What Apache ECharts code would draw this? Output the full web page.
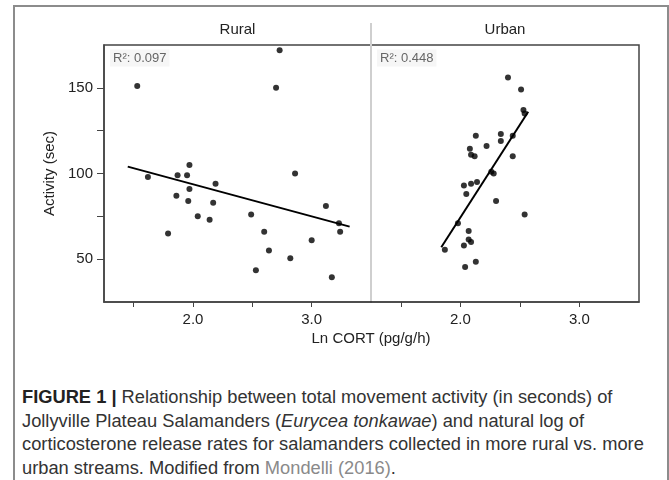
<!DOCTYPE html>
<html>
<head>
<meta charset="utf-8">
<script src="https://cdn.jsdelivr.net/npm/echarts@6/dist/echarts.min.js"></script>
<style>
  html, body { margin: 0; padding: 0; background: #fff; }
  #wrap { position: relative; width: 669px; height: 480px; overflow: hidden; background: #fff; }
  #frame {
    position: absolute; left: 13px; top: 5px; width: 656px; height: 520px;
    border: 2px solid #8c8c8c; border-bottom: none; box-sizing: border-box;
  }
  #chart { position: absolute; left: 0; top: 0; width: 669px; height: 360px; }
  #caption {
    position: absolute; left: 22px; top: 385px;
    font: 18.3px/23.7px "Liberation Sans", Arial, sans-serif;
    color: #333; white-space: nowrap;
  }
  #caption b { color: #222; }
  #caption .ref { color: #8a8a8a; }
</style>
</head>
<body>
<div id="wrap">
  <div id="frame"></div>
  <div id="chart"></div>
  <div id="caption"><b>FIGURE 1 |</b> Relationship between total movement activity (in seconds) of<br>Jollyville Plateau Salamanders (<i>Eurycea tonkawae</i>) and natural log of<br>corticosterone release rates for salamanders collected in more rural vs. more<br>urban streams. Modified from <span class="ref">Mondelli (2016)</span>.</div>
</div>
<script>
// values
const ruralCort = [1.53, 1.62, 1.79, 1.86, 1.87, 1.95, 1.96, 1.97, 1.97, 2.04, 2.14, 2.17, 2.19,
  2.49, 2.53, 2.60, 2.64, 2.70, 2.73, 2.82, 2.86, 3.00, 3.12, 3.17, 3.23, 3.24]
const ruralActivity = [151, 98, 65, 87, 99, 99, 84, 105, 91, 75, 73, 83, 94,
  76, 43.5, 66, 55, 150, 172, 50.5, 100, 61, 81, 39.5, 71, 66]

const urbanCort = [2.40, 2.51, 2.53, 2.54, 2.13, 2.34, 2.34, 2.44, 2.22, 2.08, 2.09, 2.12, 2.44, 2.26, 2.28,
  2.03, 2.09, 2.14, 2.05, 2.30, 2.54, 1.98, 2.07, 2.07, 2.09, 2.03, 1.87, 2.13, 2.04]
const urbanActivity = [156, 149, 137, 135, 122, 123, 119, 122, 116, 114.5, 111, 110, 110, 101, 100,
  93, 94, 95, 88, 84, 76, 71, 66.5, 61.5, 60, 58, 55.5, 48.5, 45.5]

// fitted lines, end points as drawn
const ruralFitCort = [1.45, 3.32]
const ruralFitActivity = [104, 69]
const urbanFitCort = [1.84, 2.57]
const urbanFitActivity = [57, 136]

const panelNames = ['Rural', 'Urban']
const rSquared = ['0.097', '0.448']

const xTicks = [1.5, 2.0, 2.5, 3.0]
const xLabels = [2.0, 3.0]
const yTicks = [50, 75, 100, 125, 150]
const yLabels = [50, 100, 150]

const FONT = '"Liberation Sans", Arial, sans-serif'
const AXIS_COLOR = '#444'
const TEXT_COLOR = '#222'

const zip = (xs, ys) => xs.map((x, i) => [x, ys[i]])

function makeXAxis(gridIndex) {
  return {
    type: 'value',
    gridIndex,
    min: 1.25,
    max: 3.5,
    axisLine: { show: true, lineStyle: { color: AXIS_COLOR, width: 1.5 } },
    axisTick: { show: true, length: 5, customValues: xTicks, lineStyle: { color: AXIS_COLOR } },
    axisLabel: {
      customValues: xLabels,
      formatter: v => v.toFixed(1),
      color: TEXT_COLOR,
      fontSize: 15,
      fontFamily: FONT,
      margin: 10
    },
    splitLine: { show: false }
  }
}

const chart = echarts.init(document.getElementById('chart'), null, { renderer: 'canvas' })

const option = {
  animation: false,
  backgroundColor: 'transparent',
  grid: [
    { left: 104, top: 45, width: 267, height: 257, show: true, borderColor: AXIS_COLOR, borderWidth: 1.5 },
    { left: 371, top: 45, width: 268, height: 257, show: true, borderColor: AXIS_COLOR, borderWidth: 1.5 }
  ],
  xAxis: [makeXAxis(0), makeXAxis(1)],
  yAxis: [
    {
      type: 'value',
      gridIndex: 0,
      min: 25,
      max: 175,
      name: 'Activity (sec)',
      nameLocation: 'middle',
      nameGap: 47,
      nameTextStyle: { color: TEXT_COLOR, fontSize: 15, fontFamily: FONT },
      axisLine: { show: true, lineStyle: { color: AXIS_COLOR, width: 1.5 } },
      axisTick: { show: true, length: 7, customValues: yTicks, lineStyle: { color: AXIS_COLOR } },
      axisLabel: { customValues: yLabels, color: TEXT_COLOR, fontSize: 15, fontFamily: FONT, margin: 11 },
      splitLine: { show: false }
    },
    {
      type: 'value',
      gridIndex: 1,
      min: 25,
      max: 175,
      axisLine: { show: false },
      axisTick: { show: false },
      axisLabel: { show: false },
      splitLine: { show: false }
    }
  ],
  series: [
    {
      type: 'scatter',
      xAxisIndex: 0,
      yAxisIndex: 0,
      data: zip(ruralCort, ruralActivity),
      symbolSize: 6,
      itemStyle: { color: '#000' }
    },
    {
      type: 'line',
      xAxisIndex: 0,
      yAxisIndex: 0,
      data: zip(ruralFitCort, ruralFitActivity),
      symbol: 'none',
      lineStyle: { color: '#000', width: 2 }
    },
    {
      type: 'scatter',
      xAxisIndex: 1,
      yAxisIndex: 1,
      data: zip(urbanCort, urbanActivity),
      symbolSize: 6,
      itemStyle: { color: '#000' }
    },
    {
      type: 'line',
      xAxisIndex: 1,
      yAxisIndex: 1,
      data: zip(urbanFitCort, urbanFitActivity),
      symbol: 'none',
      lineStyle: { color: '#000', width: 2 }
    }
  ],
  graphic: [
    // light divider between the two panels, runs up into the header
    {
      type: 'line',
      z: 5,
      shape: { x1: 371, y1: 23, x2: 371, y2: 301 },
      style: { stroke: '#cfcfcf', lineWidth: 2 }
    },
    ...panelNames.map((name, i) => ({
      type: 'text',
      z: 5,
      x: i === 0 ? 237.5 : 505,
      y: 30,
      style: {
        text: name, font: '15px ' + FONT, fill: TEXT_COLOR,
        align: 'center', verticalAlign: 'middle', textAlign: 'center', textVerticalAlign: 'middle'
      }
    })),
    ...rSquared.map((r, i) => ({
      type: 'text',
      z: 6,
      x: i === 0 ? 110 : 377,
      y: 58,
      style: {
        text: 'R²: ' + r, font: '13px ' + FONT, fill: '#666',
        align: 'left', verticalAlign: 'middle', textAlign: 'left', textVerticalAlign: 'middle',
        backgroundColor: '#f6f6f6', padding: [2, 3]
      }
    })),
    {
      type: 'text',
      z: 5,
      x: 371,
      y: 339,
      style: {
        text: 'Ln CORT (pg/g/h)', font: '15px ' + FONT, fill: TEXT_COLOR,
        align: 'center', verticalAlign: 'middle', textAlign: 'center', textVerticalAlign: 'middle'
      }
    }
  ]
}

chart.setOption(option)
</script>
</body>
</html>
